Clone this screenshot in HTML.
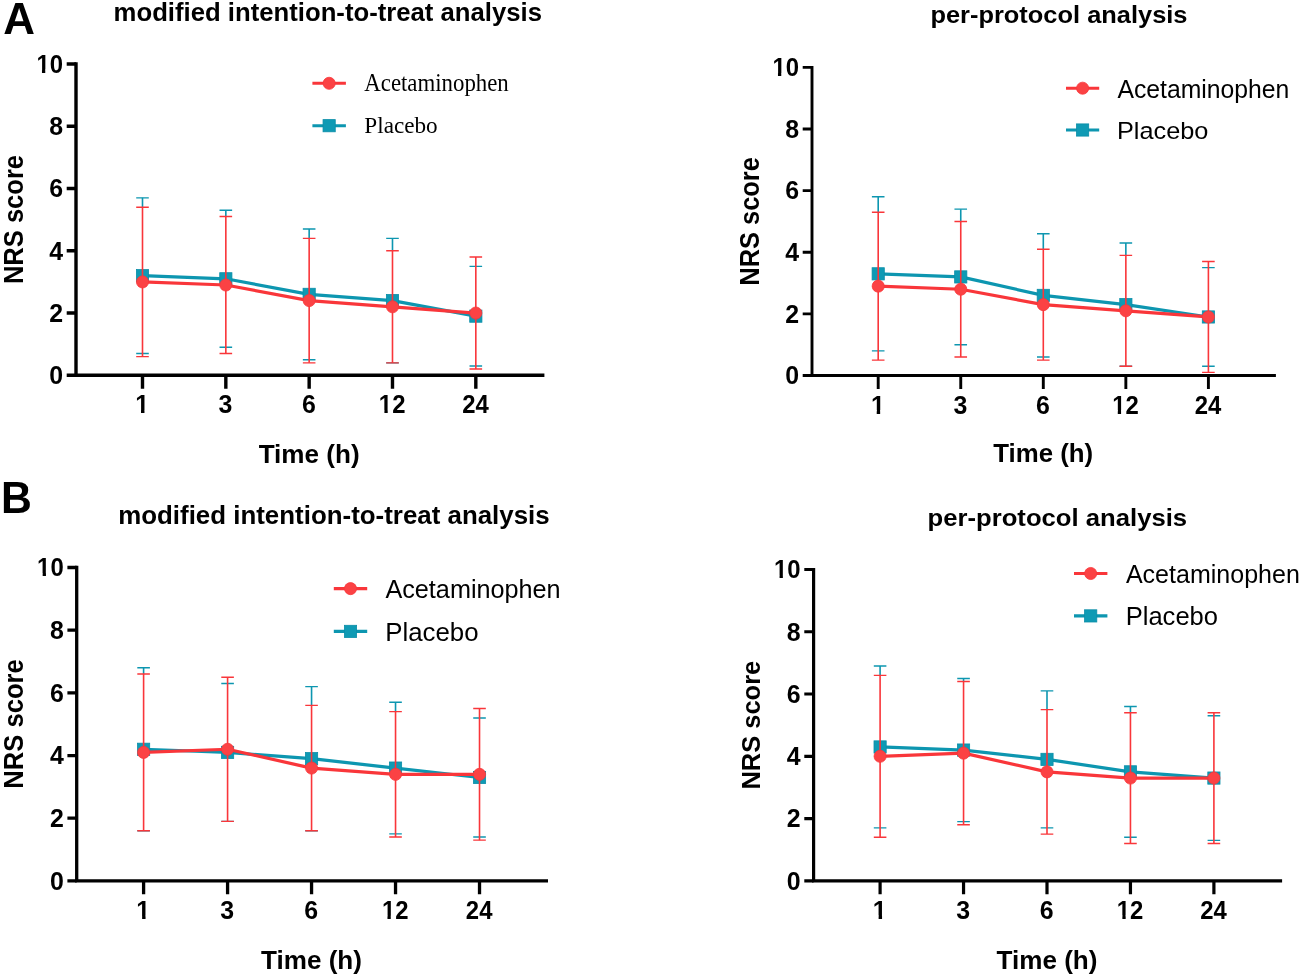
<!DOCTYPE html>
<html><head><meta charset="utf-8"><title>NRS score: Acetaminophen vs Placebo</title>
<style>
html,body{margin:0;padding:0;background:#fff;}
body{width:1301px;height:977px;overflow:hidden;}
svg{display:block;will-change:transform;}
text{font-family:"Liberation Sans", sans-serif;fill:#000;}
.tk{font-family:"Liberation Sans", sans-serif;font-weight:bold;font-size:100px;}
</style></head>
<body>
<svg width="1301" height="977" viewBox="0 0 1301 977">
<defs>
<clipPath id="one" clipPathUnits="userSpaceOnUse"><path d="M-20 -140H80V-13H37.1V20H23.3V-13H-20Z"/></clipPath>
</defs>
<rect width="1301" height="977" fill="#fff"/>
<text transform="translate(3.37 34.1) rotate(0.01) scale(1.0077 1)" style='font-family:"Liberation Sans", sans-serif;font-weight:bold;font-size:43.60px'>A</text>
<text transform="translate(0.94 513.1) rotate(0.01) scale(0.9796 1)" style='font-family:"Liberation Sans", sans-serif;font-weight:bold;font-size:43.62px'>B</text>
<path d="M142.5 197.86V207.2M225.83 210.31V216.54M309.16 228.99V238.33M392.49 238.33V250.78" stroke="#0d96b0" stroke-width="1.6" fill="none"/>
<path d="M136.2 197.86H148.8M136.2 353.51H148.8M219.53 210.31H232.13M219.53 347.28H232.13M302.86 228.99H315.46M302.86 359.74H315.46M386.19 238.33H398.79M386.19 362.85H398.79M469.52 266.35H482.12M469.52 365.96H482.12" stroke="#0d96b0" stroke-width="1.4" fill="none"/>
<polyline points="142.5,275.68 225.83,278.8 309.16,294.36 392.49,300.59 475.82,316.15" stroke="#0d96b0" stroke-width="3.2" fill="none" stroke-linejoin="round"/>
<rect x="136.4" y="269.58" width="12.2" height="12.2" fill="#0f9ab4" stroke="#0a8ea8" stroke-width="0.8"/><rect x="219.73" y="272.7" width="12.2" height="12.2" fill="#0f9ab4" stroke="#0a8ea8" stroke-width="0.8"/><rect x="303.06" y="288.26" width="12.2" height="12.2" fill="#0f9ab4" stroke="#0a8ea8" stroke-width="0.8"/><rect x="386.39" y="294.49" width="12.2" height="12.2" fill="#0f9ab4" stroke="#0a8ea8" stroke-width="0.8"/><rect x="469.72" y="310.05" width="12.2" height="12.2" fill="#0f9ab4" stroke="#0a8ea8" stroke-width="0.8"/>
<path d="M142.5 207.2V356.62M225.83 216.54V353.51M309.16 238.33V362.85M392.49 250.78V362.85M475.82 257.01V369.07" stroke="#f9363a" stroke-width="1.6" fill="none"/>
<path d="M136.2 207.2H148.8M136.2 356.62H148.8M219.53 216.54H232.13M219.53 353.51H232.13M302.86 238.33H315.46M302.86 362.85H315.46M386.19 250.78H398.79M386.19 362.85H398.79M469.52 257.01H482.12M469.52 369.07H482.12" stroke="#f9363a" stroke-width="1.4" fill="none"/>
<polyline points="142.5,281.91 225.83,285.02 309.16,300.59 392.49,306.81 475.82,313.04" stroke="#f9363a" stroke-width="3.2" fill="none" stroke-linejoin="round"/>
<circle cx="142.5" cy="281.91" r="6.05" fill="#fb4244" stroke="#f9363a" stroke-width="0.8"/><circle cx="225.83" cy="285.02" r="6.05" fill="#fb4244" stroke="#f9363a" stroke-width="0.8"/><circle cx="309.16" cy="300.59" r="6.05" fill="#fb4244" stroke="#f9363a" stroke-width="0.8"/><circle cx="392.49" cy="306.81" r="6.05" fill="#fb4244" stroke="#f9363a" stroke-width="0.8"/><circle cx="475.82" cy="313.04" r="6.05" fill="#fb4244" stroke="#f9363a" stroke-width="0.8"/>
<path d="M76 62.3V375.3H544.4" stroke="#000" stroke-width="3.4" fill="none" stroke-linejoin="miter"/>
<path d="M66.7 375.3H76M66.7 313.04H76M66.7 250.78H76M66.7 188.52H76M66.7 126.26H76M66.7 64H76M142.5 375.3V388.7M225.83 375.3V388.7M309.16 375.3V388.7M392.49 375.3V388.7M475.82 375.3V388.7" stroke="#000" stroke-width="3.4" fill="none"/>
<text transform="translate(49.18 384.09) rotate(0.01) scale(0.2490)" class="tk">0</text>
<text transform="translate(49.18 321.83) rotate(0.01) scale(0.2490)" class="tk">2</text>
<text transform="translate(49.18 259.57) rotate(0.01) scale(0.2490)" class="tk">4</text>
<text transform="translate(49.18 197.31) rotate(0.01) scale(0.2490)" class="tk">6</text>
<text transform="translate(49.18 135.05) rotate(0.01) scale(0.2490)" class="tk">8</text>
<g transform="translate(62 0) scale(0.96 1) translate(-62 0)"><text transform="translate(35.33 72.79) rotate(0.01) scale(0.2490)" class="tk" clip-path="url(#one)">1</text><text transform="translate(49.18 72.79) rotate(0.01) scale(0.2490)" class="tk">0</text></g>
<text transform="translate(135.22 413.3) rotate(0.01) scale(0.2490)" class="tk" clip-path="url(#one)">1</text>
<text transform="translate(218.55 413.3) rotate(0.01) scale(0.2490)" class="tk">3</text>
<text transform="translate(301.88 413.3) rotate(0.01) scale(0.2490)" class="tk">6</text>
<g transform="translate(392.14 0) scale(0.96 1) translate(-392.14 0)"><text transform="translate(378.29 413.3) rotate(0.01) scale(0.2490)" class="tk" clip-path="url(#one)">1</text><text transform="translate(392.14 413.3) rotate(0.01) scale(0.2490)" class="tk">2</text></g>
<g transform="translate(475.47 0) scale(0.96 1) translate(-475.47 0)"><text transform="translate(461.62 413.3) rotate(0.01) scale(0.2490)" class="tk">2</text><text transform="translate(475.47 413.3) rotate(0.01) scale(0.2490)" class="tk">4</text></g>
<text transform="translate(22.7 284.11) rotate(-89.99) scale(0.9466 1)" style='font-family:"Liberation Sans", sans-serif;font-weight:bold;font-size:27.00px'>NRS score</text>
<text transform="translate(258.64 462.9) rotate(0.01) scale(1.0359 1)" style='font-family:"Liberation Sans", sans-serif;font-weight:bold;font-size:25.21px'>Time (h)</text>
<text transform="translate(113.6 20.7) rotate(0.01) scale(1.0199 1)" style='font-family:"Liberation Sans", sans-serif;font-weight:bold;font-size:25.21px'>modified intention-to-treat analysis</text>
<path d="M312.4 83.3H345.9" stroke="#f9363a" stroke-width="3.1"/>
<circle cx="329.15" cy="83.3" r="6.05" fill="#fb4244" stroke="#f9363a" stroke-width="0.8"/>
<path d="M312.4 125.7H345.9" stroke="#0d96b0" stroke-width="3.1"/>
<rect x="323.05" y="119.6" width="12.2" height="12.2" fill="#0f9ab4" stroke="#0a8ea8" stroke-width="0.8"/>
<text transform="translate(364.28 91.1) rotate(0.01) scale(0.9430 1)" style='font-family:"Liberation Serif", serif;font-weight:normal;font-size:24.20px'>Acetaminophen</text>
<text transform="translate(364.33 133.3) rotate(0.01) scale(0.9875 1)" style='font-family:"Liberation Serif", serif;font-weight:normal;font-size:23.48px'>Placebo</text>
<path d="M878.2 196.8V212.21M960.75 209.13V221.45M1043.3 233.77V249.18M1125.85 243.02V255.34" stroke="#0d96b0" stroke-width="1.6" fill="none"/>
<path d="M871.9 196.8H884.5M871.9 350.85H884.5M954.45 209.13H967.05M954.45 344.69H967.05M1037 233.77H1049.6M1037 357.01H1049.6M1119.55 243.02H1132.15M1119.55 366.26H1132.15M1202.1 267.66H1214.7M1202.1 366.26H1214.7" stroke="#0d96b0" stroke-width="1.4" fill="none"/>
<polyline points="878.2,273.83 960.75,276.91 1043.3,295.39 1125.85,304.64 1208.4,316.96" stroke="#0d96b0" stroke-width="3.2" fill="none" stroke-linejoin="round"/>
<rect x="872.1" y="267.73" width="12.2" height="12.2" fill="#0f9ab4" stroke="#0a8ea8" stroke-width="0.8"/><rect x="954.65" y="270.81" width="12.2" height="12.2" fill="#0f9ab4" stroke="#0a8ea8" stroke-width="0.8"/><rect x="1037.2" y="289.29" width="12.2" height="12.2" fill="#0f9ab4" stroke="#0a8ea8" stroke-width="0.8"/><rect x="1119.75" y="298.54" width="12.2" height="12.2" fill="#0f9ab4" stroke="#0a8ea8" stroke-width="0.8"/><rect x="1202.3" y="310.86" width="12.2" height="12.2" fill="#0f9ab4" stroke="#0a8ea8" stroke-width="0.8"/>
<path d="M878.2 212.21V360.1M960.75 221.45V357.01M1043.3 249.18V360.1M1125.85 255.34V366.26M1208.4 261.5V372.42" stroke="#f9363a" stroke-width="1.6" fill="none"/>
<path d="M871.9 212.21H884.5M871.9 360.1H884.5M954.45 221.45H967.05M954.45 357.01H967.05M1037 249.18H1049.6M1037 360.1H1049.6M1119.55 255.34H1132.15M1119.55 366.26H1132.15M1202.1 261.5H1214.7M1202.1 372.42H1214.7" stroke="#f9363a" stroke-width="1.4" fill="none"/>
<polyline points="878.2,286.15 960.75,289.23 1043.3,304.64 1125.85,310.8 1208.4,316.96" stroke="#f9363a" stroke-width="3.2" fill="none" stroke-linejoin="round"/>
<circle cx="878.2" cy="286.15" r="6.05" fill="#fb4244" stroke="#f9363a" stroke-width="0.8"/><circle cx="960.75" cy="289.23" r="6.05" fill="#fb4244" stroke="#f9363a" stroke-width="0.8"/><circle cx="1043.3" cy="304.64" r="6.05" fill="#fb4244" stroke="#f9363a" stroke-width="0.8"/><circle cx="1125.85" cy="310.8" r="6.05" fill="#fb4244" stroke="#f9363a" stroke-width="0.8"/><circle cx="1208.4" cy="316.96" r="6.05" fill="#fb4244" stroke="#f9363a" stroke-width="0.8"/>
<path d="M812 65.95V375.5H1275.9" stroke="#000" stroke-width="2.9" fill="none" stroke-linejoin="miter"/>
<path d="M802.7 375.5H812M802.7 313.88H812M802.7 252.26H812M802.7 190.64H812M802.7 129.02H812M802.7 67.4H812M878.2 375.5V388.9M960.75 375.5V388.9M1043.3 375.5V388.9M1125.85 375.5V388.9M1208.4 375.5V388.9" stroke="#000" stroke-width="2.9" fill="none"/>
<text transform="translate(785.18 384.29) rotate(0.01) scale(0.2490)" class="tk">0</text>
<text transform="translate(785.18 322.67) rotate(0.01) scale(0.2490)" class="tk">2</text>
<text transform="translate(785.18 261.05) rotate(0.01) scale(0.2490)" class="tk">4</text>
<text transform="translate(785.18 199.43) rotate(0.01) scale(0.2490)" class="tk">6</text>
<text transform="translate(785.18 137.81) rotate(0.01) scale(0.2490)" class="tk">8</text>
<g transform="translate(798 0) scale(0.96 1) translate(-798 0)"><text transform="translate(771.33 76.19) rotate(0.01) scale(0.2490)" class="tk" clip-path="url(#one)">1</text><text transform="translate(785.18 76.19) rotate(0.01) scale(0.2490)" class="tk">0</text></g>
<text transform="translate(870.92 413.5) rotate(0.01) scale(0.2490)" class="tk" clip-path="url(#one)">1</text>
<text transform="translate(953.47 413.5) rotate(0.01) scale(0.2490)" class="tk">3</text>
<text transform="translate(1036.02 413.5) rotate(0.01) scale(0.2490)" class="tk">6</text>
<g transform="translate(1125.5 0) scale(0.96 1) translate(-1125.5 0)"><text transform="translate(1111.65 413.5) rotate(0.01) scale(0.2490)" class="tk" clip-path="url(#one)">1</text><text transform="translate(1125.5 413.5) rotate(0.01) scale(0.2490)" class="tk">2</text></g>
<g transform="translate(1208.05 0) scale(0.96 1) translate(-1208.05 0)"><text transform="translate(1194.2 413.5) rotate(0.01) scale(0.2490)" class="tk">2</text><text transform="translate(1208.05 413.5) rotate(0.01) scale(0.2490)" class="tk">4</text></g>
<text transform="translate(759.1 285.7) rotate(-89.99) scale(0.9515 1)" style='font-family:"Liberation Sans", sans-serif;font-weight:bold;font-size:26.71px'>NRS score</text>
<text transform="translate(993.24 462.2) rotate(0.01) scale(1.0368 1)" style='font-family:"Liberation Sans", sans-serif;font-weight:bold;font-size:24.93px'>Time (h)</text>
<text transform="translate(930.4 22.7) rotate(0.01) scale(1.0369 1)" style='font-family:"Liberation Sans", sans-serif;font-weight:bold;font-size:24.52px'>per-protocol analysis</text>
<path d="M1066 88.2H1099.2" stroke="#f9363a" stroke-width="3.1"/>
<circle cx="1082.6" cy="88.2" r="6.05" fill="#fb4244" stroke="#f9363a" stroke-width="0.8"/>
<path d="M1066 130H1099.2" stroke="#0d96b0" stroke-width="3.1"/>
<rect x="1076.5" y="123.9" width="12.2" height="12.2" fill="#0f9ab4" stroke="#0a8ea8" stroke-width="0.8"/>
<text transform="translate(1117.4 97.5) rotate(0.01) scale(0.9762 1)" style='font-family:"Liberation Sans", sans-serif;font-weight:normal;font-size:25.34px'>Acetaminophen</text>
<text transform="translate(1116.97 139.2) rotate(0.01) scale(1.0268 1)" style='font-family:"Liberation Sans", sans-serif;font-weight:normal;font-size:24.66px'>Placebo</text>
<path d="M143.6 667.79V674.06M311.56 686.59V705.4M395.54 702.26V711.66" stroke="#0d96b0" stroke-width="1.6" fill="none"/>
<path d="M137.3 667.79H149.9M137.3 830.76H149.9M221.28 683.46H233.88M221.28 821.35H233.88M305.26 686.59H317.86M305.26 830.76H317.86M389.24 702.26H401.84M389.24 833.89H401.84M473.22 717.93H485.82M473.22 837.02H485.82" stroke="#0d96b0" stroke-width="1.4" fill="none"/>
<polyline points="143.6,749.27 227.58,752.41 311.56,758.67 395.54,768.08 479.52,777.48" stroke="#0d96b0" stroke-width="3.2" fill="none" stroke-linejoin="round"/>
<rect x="137.5" y="743.17" width="12.2" height="12.2" fill="#0f9ab4" stroke="#0a8ea8" stroke-width="0.8"/><rect x="221.48" y="746.31" width="12.2" height="12.2" fill="#0f9ab4" stroke="#0a8ea8" stroke-width="0.8"/><rect x="305.46" y="752.57" width="12.2" height="12.2" fill="#0f9ab4" stroke="#0a8ea8" stroke-width="0.8"/><rect x="389.44" y="761.98" width="12.2" height="12.2" fill="#0f9ab4" stroke="#0a8ea8" stroke-width="0.8"/><rect x="473.42" y="771.38" width="12.2" height="12.2" fill="#0f9ab4" stroke="#0a8ea8" stroke-width="0.8"/>
<path d="M143.6 674.06V830.76M227.58 677.19V821.35M311.56 705.4V830.76M395.54 711.66V837.02M479.52 708.53V840.16" stroke="#f9363a" stroke-width="1.6" fill="none"/>
<path d="M137.3 674.06H149.9M137.3 830.76H149.9M221.28 677.19H233.88M221.28 821.35H233.88M305.26 705.4H317.86M305.26 830.76H317.86M389.24 711.66H401.84M389.24 837.02H401.84M473.22 708.53H485.82M473.22 840.16H485.82" stroke="#f9363a" stroke-width="1.4" fill="none"/>
<polyline points="143.6,752.41 227.58,749.27 311.56,768.08 395.54,774.34 479.52,774.34" stroke="#f9363a" stroke-width="3.2" fill="none" stroke-linejoin="round"/>
<circle cx="143.6" cy="752.41" r="6.05" fill="#fb4244" stroke="#f9363a" stroke-width="0.8"/><circle cx="227.58" cy="749.27" r="6.05" fill="#fb4244" stroke="#f9363a" stroke-width="0.8"/><circle cx="311.56" cy="768.08" r="6.05" fill="#fb4244" stroke="#f9363a" stroke-width="0.8"/><circle cx="395.54" cy="774.34" r="6.05" fill="#fb4244" stroke="#f9363a" stroke-width="0.8"/><circle cx="479.52" cy="774.34" r="6.05" fill="#fb4244" stroke="#f9363a" stroke-width="0.8"/>
<path d="M76.7 565.85V880.9H548" stroke="#000" stroke-width="3.3" fill="none" stroke-linejoin="miter"/>
<path d="M67.4 880.9H76.7M67.4 818.22H76.7M67.4 755.54H76.7M67.4 692.86H76.7M67.4 630.18H76.7M67.4 567.5H76.7M143.6 880.9V894.3M227.58 880.9V894.3M311.56 880.9V894.3M395.54 880.9V894.3M479.52 880.9V894.3" stroke="#000" stroke-width="3.3" fill="none"/>
<text transform="translate(49.88 889.69) rotate(0.01) scale(0.2490)" class="tk">0</text>
<text transform="translate(49.88 827.01) rotate(0.01) scale(0.2490)" class="tk">2</text>
<text transform="translate(49.88 764.33) rotate(0.01) scale(0.2490)" class="tk">4</text>
<text transform="translate(49.88 701.65) rotate(0.01) scale(0.2490)" class="tk">6</text>
<text transform="translate(49.88 638.97) rotate(0.01) scale(0.2490)" class="tk">8</text>
<g transform="translate(62.7 0) scale(0.96 1) translate(-62.7 0)"><text transform="translate(36.03 576.29) rotate(0.01) scale(0.2490)" class="tk" clip-path="url(#one)">1</text><text transform="translate(49.88 576.29) rotate(0.01) scale(0.2490)" class="tk">0</text></g>
<text transform="translate(136.32 918.9) rotate(0.01) scale(0.2490)" class="tk" clip-path="url(#one)">1</text>
<text transform="translate(220.3 918.9) rotate(0.01) scale(0.2490)" class="tk">3</text>
<text transform="translate(304.28 918.9) rotate(0.01) scale(0.2490)" class="tk">6</text>
<g transform="translate(395.19 0) scale(0.96 1) translate(-395.19 0)"><text transform="translate(381.34 918.9) rotate(0.01) scale(0.2490)" class="tk" clip-path="url(#one)">1</text><text transform="translate(395.19 918.9) rotate(0.01) scale(0.2490)" class="tk">2</text></g>
<g transform="translate(479.17 0) scale(0.96 1) translate(-479.17 0)"><text transform="translate(465.32 918.9) rotate(0.01) scale(0.2490)" class="tk">2</text><text transform="translate(479.17 918.9) rotate(0.01) scale(0.2490)" class="tk">4</text></g>
<text transform="translate(23.3 788.71) rotate(-89.99) scale(0.9197 1)" style='font-family:"Liberation Sans", sans-serif;font-weight:bold;font-size:27.86px'>NRS score</text>
<text transform="translate(261.04 968.8) rotate(0.01) scale(1.0238 1)" style='font-family:"Liberation Sans", sans-serif;font-weight:bold;font-size:25.48px'>Time (h)</text>
<text transform="translate(118.18 523.6) rotate(0.01) scale(1.0108 1)" style='font-family:"Liberation Sans", sans-serif;font-weight:bold;font-size:25.62px'>modified intention-to-treat analysis</text>
<path d="M333.8 588.6H367.2" stroke="#f9363a" stroke-width="3.1"/>
<circle cx="350.5" cy="588.6" r="6.05" fill="#fb4244" stroke="#f9363a" stroke-width="0.8"/>
<path d="M333.8 631.4H367.2" stroke="#0d96b0" stroke-width="3.1"/>
<rect x="344.4" y="625.3" width="12.2" height="12.2" fill="#0f9ab4" stroke="#0a8ea8" stroke-width="0.8"/>
<text transform="translate(385.4 598) rotate(0.01) scale(0.9746 1)" style='font-family:"Liberation Sans", sans-serif;font-weight:normal;font-size:25.89px'>Acetaminophen</text>
<text transform="translate(385.23 640.8) rotate(0.01) scale(1.0139 1)" style='font-family:"Liberation Sans", sans-serif;font-weight:normal;font-size:25.48px'>Placebo</text>
<path d="M880.1 666V675.34M963.55 678.45V681.57M1047 690.91V709.59M1130.45 706.47V712.7" stroke="#0d96b0" stroke-width="1.6" fill="none"/>
<path d="M873.8 666H886.4M873.8 827.88H886.4M957.25 678.45H969.85M957.25 821.65H969.85M1040.7 690.91H1053.3M1040.7 827.88H1053.3M1124.15 706.47H1136.75M1124.15 837.22H1136.75M1207.6 715.81H1220.2M1207.6 840.33H1220.2" stroke="#0d96b0" stroke-width="1.4" fill="none"/>
<polyline points="880.1,746.94 963.55,750.05 1047,759.39 1130.45,771.85 1213.9,778.07" stroke="#0d96b0" stroke-width="3.2" fill="none" stroke-linejoin="round"/>
<rect x="874" y="740.84" width="12.2" height="12.2" fill="#0f9ab4" stroke="#0a8ea8" stroke-width="0.8"/><rect x="957.45" y="743.95" width="12.2" height="12.2" fill="#0f9ab4" stroke="#0a8ea8" stroke-width="0.8"/><rect x="1040.9" y="753.29" width="12.2" height="12.2" fill="#0f9ab4" stroke="#0a8ea8" stroke-width="0.8"/><rect x="1124.35" y="765.75" width="12.2" height="12.2" fill="#0f9ab4" stroke="#0a8ea8" stroke-width="0.8"/><rect x="1207.8" y="771.97" width="12.2" height="12.2" fill="#0f9ab4" stroke="#0a8ea8" stroke-width="0.8"/>
<path d="M880.1 675.34V837.22M963.55 681.57V824.77M1047 709.59V834.11M1130.45 712.7V843.44M1213.9 712.7V843.44" stroke="#f9363a" stroke-width="1.6" fill="none"/>
<path d="M873.8 675.34H886.4M873.8 837.22H886.4M957.25 681.57H969.85M957.25 824.77H969.85M1040.7 709.59H1053.3M1040.7 834.11H1053.3M1124.15 712.7H1136.75M1124.15 843.44H1136.75M1207.6 712.7H1220.2M1207.6 843.44H1220.2" stroke="#f9363a" stroke-width="1.4" fill="none"/>
<polyline points="880.1,756.28 963.55,753.17 1047,771.85 1130.45,778.07 1213.9,778.07" stroke="#f9363a" stroke-width="3.2" fill="none" stroke-linejoin="round"/>
<circle cx="880.1" cy="756.28" r="6.05" fill="#fb4244" stroke="#f9363a" stroke-width="0.8"/><circle cx="963.55" cy="753.17" r="6.05" fill="#fb4244" stroke="#f9363a" stroke-width="0.8"/><circle cx="1047" cy="771.85" r="6.05" fill="#fb4244" stroke="#f9363a" stroke-width="0.8"/><circle cx="1130.45" cy="778.07" r="6.05" fill="#fb4244" stroke="#f9363a" stroke-width="0.8"/><circle cx="1213.9" cy="778.07" r="6.05" fill="#fb4244" stroke="#f9363a" stroke-width="0.8"/>
<path d="M813.6 567.9V880.8H1282.1" stroke="#000" stroke-width="3.2" fill="none" stroke-linejoin="miter"/>
<path d="M804.3 880.8H813.6M804.3 818.54H813.6M804.3 756.28H813.6M804.3 694.02H813.6M804.3 631.76H813.6M804.3 569.5H813.6M880.1 880.8V894.2M963.55 880.8V894.2M1047 880.8V894.2M1130.45 880.8V894.2M1213.9 880.8V894.2" stroke="#000" stroke-width="3.2" fill="none"/>
<text transform="translate(786.78 889.59) rotate(0.01) scale(0.2490)" class="tk">0</text>
<text transform="translate(786.78 827.33) rotate(0.01) scale(0.2490)" class="tk">2</text>
<text transform="translate(786.78 765.07) rotate(0.01) scale(0.2490)" class="tk">4</text>
<text transform="translate(786.78 702.81) rotate(0.01) scale(0.2490)" class="tk">6</text>
<text transform="translate(786.78 640.55) rotate(0.01) scale(0.2490)" class="tk">8</text>
<g transform="translate(799.6 0) scale(0.96 1) translate(-799.6 0)"><text transform="translate(772.93 578.29) rotate(0.01) scale(0.2490)" class="tk" clip-path="url(#one)">1</text><text transform="translate(786.78 578.29) rotate(0.01) scale(0.2490)" class="tk">0</text></g>
<text transform="translate(872.82 918.8) rotate(0.01) scale(0.2490)" class="tk" clip-path="url(#one)">1</text>
<text transform="translate(956.27 918.8) rotate(0.01) scale(0.2490)" class="tk">3</text>
<text transform="translate(1039.72 918.8) rotate(0.01) scale(0.2490)" class="tk">6</text>
<g transform="translate(1130.1 0) scale(0.96 1) translate(-1130.1 0)"><text transform="translate(1116.25 918.8) rotate(0.01) scale(0.2490)" class="tk" clip-path="url(#one)">1</text><text transform="translate(1130.1 918.8) rotate(0.01) scale(0.2490)" class="tk">2</text></g>
<g transform="translate(1213.55 0) scale(0.96 1) translate(-1213.55 0)"><text transform="translate(1199.7 918.8) rotate(0.01) scale(0.2490)" class="tk">2</text><text transform="translate(1213.55 918.8) rotate(0.01) scale(0.2490)" class="tk">4</text></g>
<text transform="translate(759.6 789.61) rotate(-89.99) scale(1.0141 1)" style='font-family:"Liberation Sans", sans-serif;font-weight:bold;font-size:25.14px'>NRS score</text>
<text transform="translate(996.54 968.8) rotate(0.01) scale(1.0293 1)" style='font-family:"Liberation Sans", sans-serif;font-weight:bold;font-size:25.34px'>Time (h)</text>
<text transform="translate(927.49 526.1) rotate(0.01) scale(1.0475 1)" style='font-family:"Liberation Sans", sans-serif;font-weight:bold;font-size:24.52px'>per-protocol analysis</text>
<path d="M1074 573.5H1107.4" stroke="#f9363a" stroke-width="3.1"/>
<circle cx="1090.7" cy="573.5" r="6.05" fill="#fb4244" stroke="#f9363a" stroke-width="0.8"/>
<path d="M1074 615.9H1107.4" stroke="#0d96b0" stroke-width="3.1"/>
<rect x="1084.6" y="609.8" width="12.2" height="12.2" fill="#0f9ab4" stroke="#0a8ea8" stroke-width="0.8"/>
<text transform="translate(1125.9 582.8) rotate(0.01) scale(0.9985 1)" style='font-family:"Liberation Sans", sans-serif;font-weight:normal;font-size:25.07px'>Acetaminophen</text>
<text transform="translate(1125.65 625.3) rotate(0.01) scale(1.0259 1)" style='font-family:"Liberation Sans", sans-serif;font-weight:normal;font-size:24.93px'>Placebo</text>
</svg>
</body></html>
